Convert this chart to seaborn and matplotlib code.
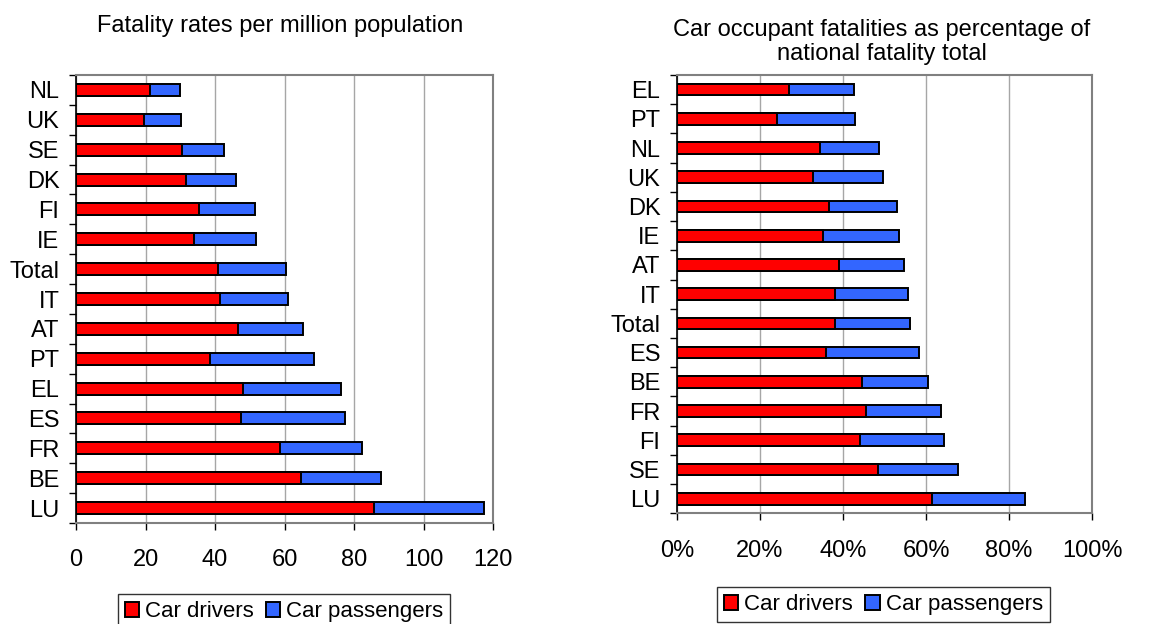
import matplotlib.pyplot as plt
import seaborn as sns
import numpy as np
import pandas as pd
from matplotlib.patches import Patch
from matplotlib.ticker import FuncFormatter

# left panel: fatality rates per million population
rate_countries = ["NL", "UK", "SE", "DK", "FI", "IE", "Total", "IT", "AT",
                  "PT", "EL", "ES", "FR", "BE", "LU"]
rate_drivers = [21.2, 19.7, 30.4, 31.6, 35.3, 33.9, 40.8, 41.4, 46.5,
                38.5, 48.2, 47.5, 58.8, 64.8, 85.8]
rate_totals = [29.8, 30.2, 42.6, 46.0, 51.6, 51.7, 60.4, 60.9, 65.4,
               68.5, 76.3, 77.3, 82.2, 87.8, 117.4]

# right panel: car occupant share of national fatality total (%)
share_countries = ["EL", "PT", "NL", "UK", "DK", "IE", "AT", "IT", "Total",
                   "ES", "BE", "FR", "FI", "SE", "LU"]
share_drivers = [27.0, 24.1, 34.5, 32.8, 36.7, 35.1, 39.0, 38.1, 38.1,
                 36.0, 44.6, 45.5, 44.1, 48.5, 61.4]
share_totals = [42.7, 43.0, 48.6, 49.7, 53.1, 53.5, 54.8, 55.7, 56.2,
                58.3, 60.5, 63.5, 64.4, 67.8, 83.9]

RED = "#FF0000"
BLUE = "#3366FF"

sns.set_style("white")
plt.rcParams["font.family"] = ["Liberation Sans", "DejaVu Sans"]
plt.rcParams["text.color"] = "black"
plt.rcParams["xtick.color"] = "black"
plt.rcParams["ytick.color"] = "black"

fig = plt.figure(figsize=(11.52, 6.24), dpi=100)
ax1 = fig.add_axes([76 / 1152, 101 / 624, 417 / 1152, 448 / 624])
ax2 = fig.add_axes([677 / 1152, 110.7 / 624, 415 / 1152, 438.3 / 624])


def stacked(ax, countries, drivers, totals, xmax):
    df = pd.DataFrame({"country": countries, "drivers": drivers, "total": totals})
    sns.barplot(data=df, x="total", y="country", order=countries, orient="h",
                color=BLUE, saturation=1, edgecolor="black", linewidth=1.4,
                width=0.4, errorbar=None, ax=ax)
    sns.barplot(data=df, x="drivers", y="country", order=countries, orient="h",
                color=RED, saturation=1, edgecolor="black", linewidth=1.4,
                width=0.4, errorbar=None, ax=ax)
    ax.set_xlim(0, xmax)
    ax.set_ylim(len(countries) - 0.5, -0.5)
    ax.set_xlabel("")
    ax.set_ylabel("")
    ax.set_xticks(np.linspace(0, xmax, 6 if xmax == 100 else 7))
    ax.set_yticks(np.arange(-0.5, len(countries), 1), minor=True)
    ax.tick_params(axis="y", which="major", length=0, pad=12, labelsize=17)
    ax.tick_params(axis="y", which="minor", length=5, width=1, color="black", left=True)
    ax.tick_params(axis="x", which="major", length=5, width=1, color="black",
                   pad=14, labelsize=17, bottom=True)
    ax.xaxis.grid(True, color="#a6a6a6", linewidth=1)
    ax.set_axisbelow(True)
    for side in ["top", "right", "bottom"]:
        ax.spines[side].set_color("#808080")
        ax.spines[side].set_linewidth(1.5)
    ax.spines["left"].set_color("black")
    ax.spines["left"].set_linewidth(1.2)


stacked(ax1, rate_countries, rate_drivers, rate_totals, 120)
stacked(ax2, share_countries, share_drivers, share_totals, 100)
ax2.xaxis.set_major_formatter(FuncFormatter(lambda v, p: f"{v:.0f}%"))

fig.text(280 / 1152, 1 - 26 / 624, "Fatality rates per million population",
         ha="center", va="center", fontsize=17)
fig.text(882 / 1152, 1 - 42 / 624,
         "Car occupant fatalities as percentage of\nnational fatality total",
         ha="center", va="center", fontsize=17, linespacing=1.1)

handles = [Patch(facecolor=RED, edgecolor="black", linewidth=1.4),
           Patch(facecolor=BLUE, edgecolor="black", linewidth=1.4)]
labels = ["Car drivers", "Car passengers"]
for cx, cy in [(284, 611.5), (883.5, 604.5)]:
    leg = fig.legend(handles, labels, loc="center",
                     bbox_to_anchor=(cx / 1152, 1 - cy / 624), ncol=2,
                     frameon=True, fancybox=False, edgecolor="black",
                     handlelength=0.65, handleheight=0.65, handletextpad=0.27,
                     columnspacing=0.55, borderpad=0.3, borderaxespad=0,
                     fontsize=16)
    leg.get_frame().set_linewidth(1)

plt.savefig("out.png", dpi=100)
